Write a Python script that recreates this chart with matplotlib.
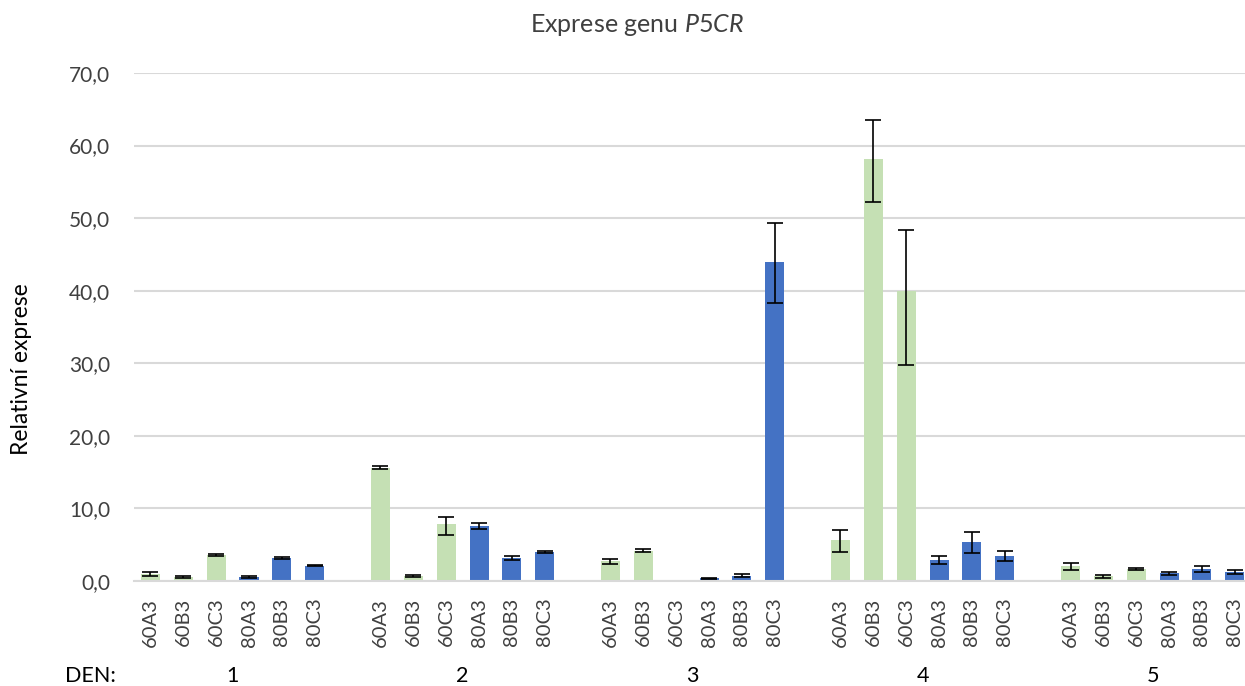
import matplotlib
matplotlib.use("Agg")
import matplotlib.pyplot as plt
import numpy as np

plt.rcParams['font.family'] = ['Lato', 'DejaVu Sans']
plt.rcParams['mathtext.fontset'] = 'custom'
plt.rcParams['mathtext.rm'] = 'Lato'
plt.rcParams['mathtext.it'] = 'Lato:italic'

samples = ["60A3", "60B3", "60C3", "80A3", "80B3", "80C3"]
days = ["1", "2", "3", "4", "5"]

day1 = [0.96, 0.55, 3.6, 0.55, 3.2, 2.1]
day2 = [15.6, 0.7, 7.8, 7.6, 3.2, 4.0]
day3 = [2.7, 4.2, 0.0, 0.35, 0.7, 44.0]
day4 = [5.7, 58.2, 40.0, 2.9, 5.4, 3.5]
day5 = [2.07, 0.69, 1.65, 1.06, 1.65, 1.2]

err_up1 = [0.25, 0.1, 0.1, 0.1, 0.1, 0.1]
err_up2 = [0.2, 0.1, 1.0, 0.4, 0.25, 0.1]
err_up3 = [0.3, 0.25, 0.0, 0.1, 0.2, 5.3]
err_up4 = [1.3, 5.3, 8.3, 0.55, 1.3, 0.7]
err_up5 = [0.35, 0.18, 0.17, 0.22, 0.35, 0.27]

err_dn1 = [0.27, 0.1, 0.1, 0.1, 0.1, 0.1]
err_dn2 = [0.2, 0.1, 1.4, 0.4, 0.25, 0.1]
err_dn3 = [0.3, 0.25, 0.0, 0.1, 0.2, 5.75]
err_dn4 = [1.7, 6.0, 10.3, 0.6, 1.6, 0.8]
err_dn5 = [0.57, 0.23, 0.18, 0.19, 0.45, 0.2]

values = [day1, day2, day3, day4, day5]
errs_up = [err_up1, err_up2, err_up3, err_up4, err_up5]
errs_dn = [err_dn1, err_dn2, err_dn3, err_dn4, err_dn5]

GREEN = "#C5E0B4"
BLUE = "#4472C4"

W, H = 1245, 686
fig = plt.figure(figsize=(W / 100, H / 100), dpi=100)
ax = fig.add_axes([134 / W, (H - 581) / H, (1245 - 134) / W, (581 - 73) / H])

xs_all, labels_all = [], []
for g, (vals, eu, ed) in enumerate(zip(values, errs_up, errs_dn)):
    for i, (s, v, u, d) in enumerate(zip(samples, vals, eu, ed)):
        x = g * 7 + i
        col = GREEN if s.startswith("60") else BLUE
        ax.bar(x, v, width=0.58, color=col, zorder=2)
        if v > 0:
            ax.errorbar(x, v, yerr=[[d], [u]], fmt="none", ecolor="black",
                        elinewidth=1.2, capsize=6, capthick=1.2, zorder=3)
        xs_all.append(x)
        labels_all.append(s)

ax.set_ylim(0, 70)
ax.set_xlim(-0.5, 33.31)
ax.set_yticks(np.arange(0, 71, 10))
ax.set_yticklabels([f"{v:.1f}".replace(".", ",") for v in np.arange(0, 71, 10)],
                   fontsize=15, color="#404040")
ax.set_xticks(xs_all)
ax.set_xticklabels(labels_all, rotation=90, fontsize=14.5, color="#404040")
ax.tick_params(axis="both", length=0)
ax.tick_params(axis="x", pad=12)
ax.tick_params(axis="y", pad=17)
ax.grid(axis="y", color="#D9D9D9", linewidth=1.5, zorder=0)
ax.set_axisbelow(True)
for sp in ["left", "right", "top"]:
    ax.spines[sp].set_visible(False)
ax.spines["bottom"].set_color("#D9D9D9")
ax.spines["bottom"].set_linewidth(1.5)

fig.text(637 / W, 1 - 25 / H, "Exprese genu $\\mathit{P5CR}$", ha="center", va="center",
         fontsize=18, color="#404040")
fig.text(22 / W, 1 - 369 / H, "Relativní exprese", rotation=90, ha="center", va="center",
         fontsize=16.5, color="black")
fig.text(90 / W, 1 - 676 / H, "DEN:", ha="center", va="center", fontsize=15.5, color="black")
for g, d in enumerate(days):
    xd = g * 7 + 2.5
    xp = ax.transData.transform((xd, 0))[0] / W
    fig.text(xp, 1 - 676 / H, d, ha="center", va="center", fontsize=15.5, color="black")

fig.savefig("out.png", dpi=100)
